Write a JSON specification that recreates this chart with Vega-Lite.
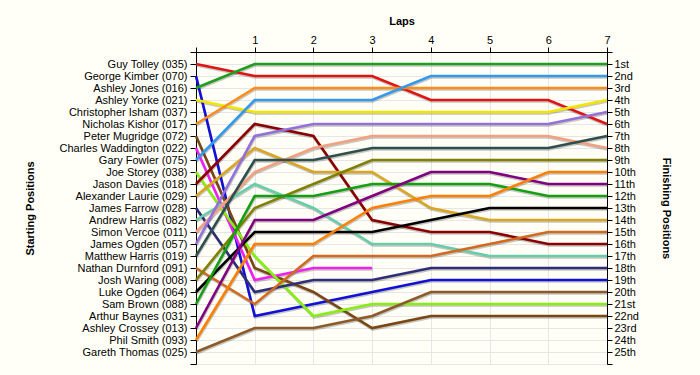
{
 "$schema": "https://vega.github.io/schema/vega-lite/v6.json",
 "width": 411, "height": 312,
 "autosize": {"type": "none"},
 "padding": {"left": 196, "top": 52, "right": 93, "bottom": 11},
 "background": "#FFFFF7",
 "config": {"view": {"stroke": null}, "font": "Liberation Sans"},
 "datasets": {
  "laps": [
   {"driver":"035","lap":0,"pos":1},{"driver":"035","lap":1,"pos":2},{"driver":"035","lap":2,"pos":2},{"driver":"035","lap":3,"pos":2},{"driver":"035","lap":4,"pos":4},{"driver":"035","lap":5,"pos":4},{"driver":"035","lap":6,"pos":4},{"driver":"035","lap":7,"pos":6},
   {"driver":"070","lap":0,"pos":2},{"driver":"070","lap":1,"pos":22},{"driver":"070","lap":2,"pos":21},{"driver":"070","lap":3,"pos":20},{"driver":"070","lap":4,"pos":19},{"driver":"070","lap":5,"pos":19},{"driver":"070","lap":6,"pos":19},{"driver":"070","lap":7,"pos":19},
   {"driver":"016","lap":0,"pos":3},{"driver":"016","lap":1,"pos":1},{"driver":"016","lap":2,"pos":1},{"driver":"016","lap":3,"pos":1},{"driver":"016","lap":4,"pos":1},{"driver":"016","lap":5,"pos":1},{"driver":"016","lap":6,"pos":1},{"driver":"016","lap":7,"pos":1},
   {"driver":"021","lap":0,"pos":4},{"driver":"021","lap":1,"pos":5},{"driver":"021","lap":2,"pos":5},{"driver":"021","lap":3,"pos":5},{"driver":"021","lap":4,"pos":5},{"driver":"021","lap":5,"pos":5},{"driver":"021","lap":6,"pos":5},{"driver":"021","lap":7,"pos":4},
   {"driver":"017","lap":0,"pos":6},{"driver":"017","lap":1,"pos":3},{"driver":"017","lap":2,"pos":3},{"driver":"017","lap":3,"pos":3},{"driver":"017","lap":4,"pos":3},{"driver":"017","lap":5,"pos":3},{"driver":"017","lap":6,"pos":3},{"driver":"017","lap":7,"pos":3},
   {"driver":"072","lap":0,"pos":7},{"driver":"072","lap":1,"pos":18},{"driver":"072","lap":2,"pos":20},{"driver":"072","lap":3,"pos":23},{"driver":"072","lap":4,"pos":22},{"driver":"072","lap":5,"pos":22},{"driver":"072","lap":6,"pos":22},{"driver":"072","lap":7,"pos":22},
   {"driver":"022","lap":0,"pos":8},{"driver":"022","lap":1,"pos":19},{"driver":"022","lap":2,"pos":18},{"driver":"022","lap":3,"pos":18},
   {"driver":"075","lap":0,"pos":9},{"driver":"075","lap":1,"pos":4},{"driver":"075","lap":2,"pos":4},{"driver":"075","lap":3,"pos":4},{"driver":"075","lap":4,"pos":2},{"driver":"075","lap":5,"pos":2},{"driver":"075","lap":6,"pos":2},{"driver":"075","lap":7,"pos":2},
   {"driver":"038","lap":0,"pos":10},{"driver":"038","lap":1,"pos":17},{"driver":"038","lap":2,"pos":22},{"driver":"038","lap":3,"pos":21},{"driver":"038","lap":4,"pos":21},{"driver":"038","lap":5,"pos":21},{"driver":"038","lap":6,"pos":21},{"driver":"038","lap":7,"pos":21},
   {"driver":"018","lap":0,"pos":11},{"driver":"018","lap":1,"pos":6},{"driver":"018","lap":2,"pos":7},{"driver":"018","lap":3,"pos":14},{"driver":"018","lap":4,"pos":15},{"driver":"018","lap":5,"pos":15},{"driver":"018","lap":6,"pos":16},{"driver":"018","lap":7,"pos":16},
   {"driver":"029","lap":0,"pos":12},{"driver":"029","lap":1,"pos":8},{"driver":"029","lap":2,"pos":10},{"driver":"029","lap":3,"pos":10},{"driver":"029","lap":4,"pos":13},{"driver":"029","lap":5,"pos":14},{"driver":"029","lap":6,"pos":14},{"driver":"029","lap":7,"pos":14},
   {"driver":"028","lap":0,"pos":13},{"driver":"028","lap":1,"pos":20},{"driver":"028","lap":2,"pos":19},{"driver":"028","lap":3,"pos":19},{"driver":"028","lap":4,"pos":18},{"driver":"028","lap":5,"pos":18},{"driver":"028","lap":6,"pos":18},{"driver":"028","lap":7,"pos":18},
   {"driver":"082","lap":0,"pos":14},{"driver":"082","lap":1,"pos":11},{"driver":"082","lap":2,"pos":13},{"driver":"082","lap":3,"pos":16},{"driver":"082","lap":4,"pos":16},{"driver":"082","lap":5,"pos":17},{"driver":"082","lap":6,"pos":17},{"driver":"082","lap":7,"pos":17},
   {"driver":"011","lap":0,"pos":15},{"driver":"011","lap":1,"pos":10},{"driver":"011","lap":2,"pos":8},{"driver":"011","lap":3,"pos":7},{"driver":"011","lap":4,"pos":7},{"driver":"011","lap":5,"pos":7},{"driver":"011","lap":6,"pos":7},{"driver":"011","lap":7,"pos":8},
   {"driver":"057","lap":0,"pos":16},{"driver":"057","lap":1,"pos":7},{"driver":"057","lap":2,"pos":6},{"driver":"057","lap":3,"pos":6},{"driver":"057","lap":4,"pos":6},{"driver":"057","lap":5,"pos":6},{"driver":"057","lap":6,"pos":6},{"driver":"057","lap":7,"pos":5},
   {"driver":"019","lap":0,"pos":17},{"driver":"019","lap":1,"pos":9},{"driver":"019","lap":2,"pos":9},{"driver":"019","lap":3,"pos":8},{"driver":"019","lap":4,"pos":8},{"driver":"019","lap":5,"pos":8},{"driver":"019","lap":6,"pos":8},{"driver":"019","lap":7,"pos":7},
   {"driver":"091","lap":0,"pos":18},{"driver":"091","lap":1,"pos":21},{"driver":"091","lap":2,"pos":17},{"driver":"091","lap":3,"pos":17},{"driver":"091","lap":4,"pos":17},{"driver":"091","lap":5,"pos":16},{"driver":"091","lap":6,"pos":15},{"driver":"091","lap":7,"pos":15},
   {"driver":"008","lap":0,"pos":19},{"driver":"008","lap":1,"pos":13},{"driver":"008","lap":2,"pos":11},{"driver":"008","lap":3,"pos":9},{"driver":"008","lap":4,"pos":9},{"driver":"008","lap":5,"pos":9},{"driver":"008","lap":6,"pos":9},{"driver":"008","lap":7,"pos":9},
   {"driver":"064","lap":0,"pos":20},{"driver":"064","lap":1,"pos":15},{"driver":"064","lap":2,"pos":15},{"driver":"064","lap":3,"pos":15},{"driver":"064","lap":4,"pos":14},{"driver":"064","lap":5,"pos":13},{"driver":"064","lap":6,"pos":13},{"driver":"064","lap":7,"pos":13},
   {"driver":"088","lap":0,"pos":21},{"driver":"088","lap":1,"pos":12},{"driver":"088","lap":2,"pos":12},{"driver":"088","lap":3,"pos":11},{"driver":"088","lap":4,"pos":11},{"driver":"088","lap":5,"pos":11},{"driver":"088","lap":6,"pos":12},{"driver":"088","lap":7,"pos":12},
   {"driver":"013","lap":0,"pos":23},{"driver":"013","lap":1,"pos":14},{"driver":"013","lap":2,"pos":14},{"driver":"013","lap":3,"pos":12},{"driver":"013","lap":4,"pos":10},{"driver":"013","lap":5,"pos":10},{"driver":"013","lap":6,"pos":11},{"driver":"013","lap":7,"pos":11},
   {"driver":"093","lap":0,"pos":24},{"driver":"093","lap":1,"pos":16},{"driver":"093","lap":2,"pos":16},{"driver":"093","lap":3,"pos":13},{"driver":"093","lap":4,"pos":12},{"driver":"093","lap":5,"pos":12},{"driver":"093","lap":6,"pos":10},{"driver":"093","lap":7,"pos":10},
   {"driver":"025","lap":0,"pos":25},{"driver":"025","lap":1,"pos":23},{"driver":"025","lap":2,"pos":23},{"driver":"025","lap":3,"pos":22},{"driver":"025","lap":4,"pos":20},{"driver":"025","lap":5,"pos":20},{"driver":"025","lap":6,"pos":20},{"driver":"025","lap":7,"pos":20}
  ]
 },
 "data": {"name": "laps"},
 "encoding": {
  "x": {"field": "lap", "type": "quantitative",
   "scale": {"domain": [0, 7], "nice": false, "zero": false},
   "axis": {"orient": "top", "values": [0,1,2,3,4,5,6,7], "labelExpr": "datum.value == 0 ? '' : datum.label",
    "title": "Laps", "titleFontSize": 11, "titleFontWeight": "bold", "titleColor": "#000", "titlePadding": 8,
    "grid": true, "gridColor": "#E6E6E6", "domainColor": "#000", "tickColor": "#000", "tickSize": 5,
    "labelColor": "#000", "labelFontSize": 11, "labelPadding": 2, "labelFlush": false}},
  "detail": {"field": "driver"}
 },
 "layer": [
  {"mark": {"type": "line", "stroke": "#000", "strokeOpacity": 0.22, "strokeWidth": 2.6, "yOffset": 1.5, "xOffset": 0.5},
   "encoding": {
    "y": {"field": "pos", "type": "quantitative",
     "scale": {"domain": [0, 26], "reverse": true, "nice": false, "zero": false},
     "axis": {"orient": "left", "values": [0,1,2,3,4,5,6,7,8,9,10,11,12,13,14,15,16,17,18,19,20,21,22,23,24,25,26],
      "labelExpr": "['','Guy Tolley (035)','George Kimber (070)','Ashley Jones (016)','Ashley Yorke (021)','Christopher Isham (037)','Nicholas Kishor (017)','Peter Mugridge (072)','Charles Waddington (022)','Gary Fowler (075)','Joe Storey (038)','Jason Davies (018)','Alexander Laurie (029)','James Farrow (028)','Andrew Harris (082)','Simon Vercoe (011)','James Ogden (057)','Matthew Harris (019)','Nathan Durnford (091)','Josh Waring (008)','Luke Ogden (064)','Sam Brown (088)','Arthur Baynes (031)','Ashley Crossey (013)','Phil Smith (093)','Gareth Thomas (025)',''][datum.value]",
      "title": "Starting Positions", "titleFontSize": 11, "titleFontWeight": "bold", "titleColor": "#000",
      "titleX": -166, "titleY": 156, "titleAngle": -90, "titleAlign": "center", "titleBaseline": "middle",
      "grid": true, "gridColor": "#E6E6E6", "domainColor": "#000", "tickColor": "#000", "tickSize": 6,
      "labelColor": "#000", "labelFontSize": 11, "labelPadding": 3, "labelFlush": false, "labelOverlap": false}}
   }},
  {"mark": {"type": "line", "strokeWidth": 2.6},
   "encoding": {
    "y": {"field": "pos", "type": "quantitative",
     "scale": {"domain": [0, 26], "reverse": true, "nice": false, "zero": false},
     "axis": {"orient": "right", "values": [0,1,2,3,4,5,6,7,8,9,10,11,12,13,14,15,16,17,18,19,20,21,22,23,24,25,26],
      "labelExpr": "['','1st','2nd','3rd','4th','5th','6th','7th','8th','9th','10th','11th','12th','13th','14th','15th','16th','17th','18th','19th','20th','21st','22nd','23rd','24th','25th',''][datum.value]",
      "title": "Finishing Positions", "titleFontSize": 11, "titleFontWeight": "bold", "titleColor": "#000",
      "titleX": 58, "titleY": 156, "titleAngle": 90, "titleAlign": "center", "titleBaseline": "middle",
      "grid": false, "domainColor": "#000", "tickColor": "#000", "tickSize": 5,
      "labelColor": "#000", "labelFontSize": 11, "labelPadding": 2, "labelFlush": false, "labelOverlap": false}},
    "color": {"field": "driver", "type": "nominal", "legend": null,
     "scale": {"domain": ["035","070","016","021","017","072","022","075","038","018","029","028","082","011","057","019","091","008","064","088","013","093","025"],
      "range": ["#E01414","#1010D8","#1E9E1E","#F2E600","#FF8C1A","#7A4613","#F020F0","#3399EE","#88EE11","#8B0000","#DAA520","#2E2E78","#66CDAA","#F4A080","#9370DB","#2F4F4F","#D2691E","#808000","#000000","#12A012","#800080","#FF8000","#8B5A2B"]}}
   }}
 ],
 "resolve": {"axis": {"y": "independent"}}
}
